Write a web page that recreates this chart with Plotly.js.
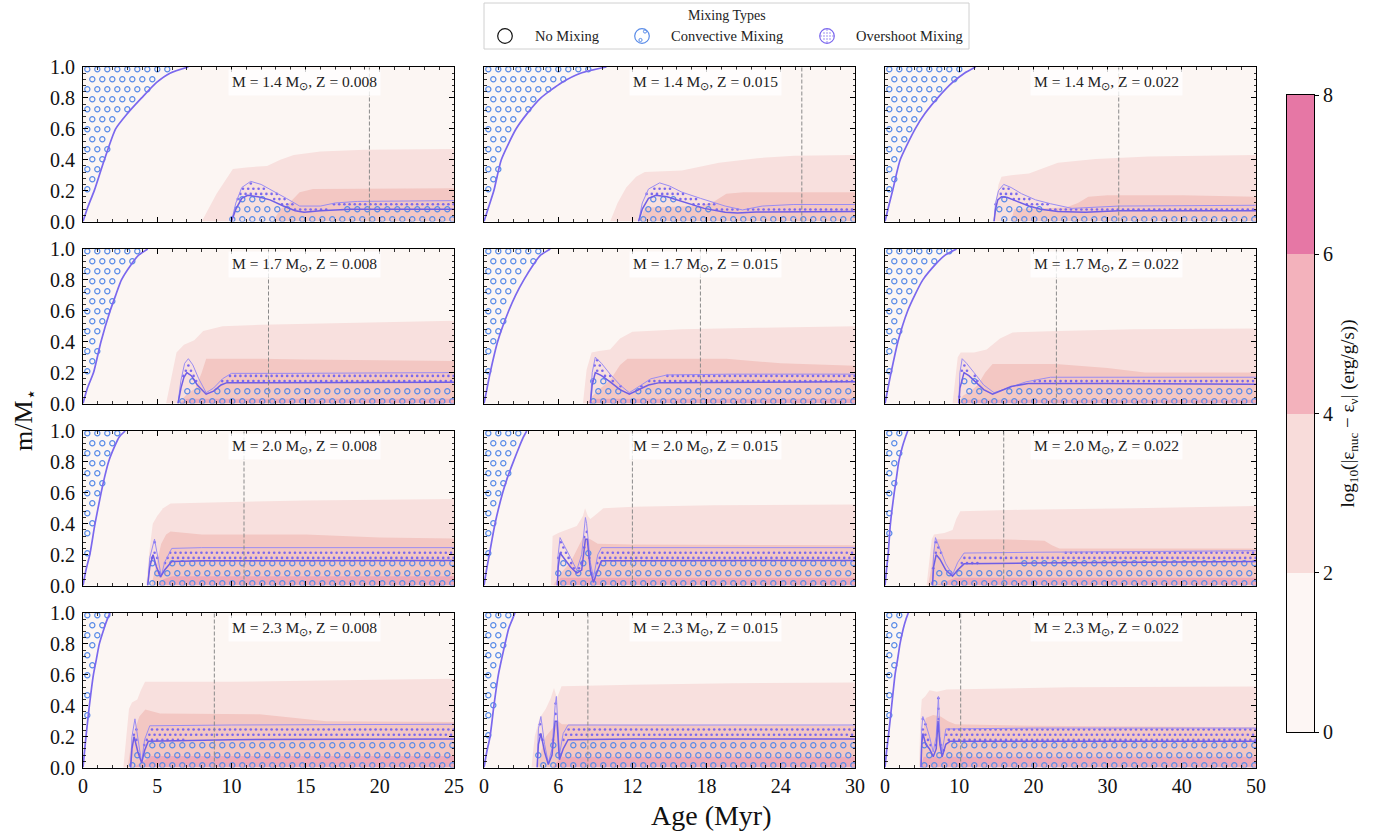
<!DOCTYPE html>
<html><head><meta charset="utf-8">
<script src="https://cdn.plot.ly/plotly-3.0.1.min.js"></script>
<style>html,body{margin:0;padding:0;background:#fff}</style>
</head><body><div id="chart" style="width:1379px;height:833px"></div>
<script>
// ---------------- DATA ----------------
const massLabels = ['1.4', '1.7', '2.0', '2.3'];
const zLabels = ['0.008', '0.015', '0.022'];
const xMax = [25, 30, 50];
const xTicks = [[0,5,10,15,20,25],[0,6,12,18,24,30],[0,10,20,30,40,50]];
const xMinor = [1, 1.2, 2];
const yTicks = [0, 0.2, 0.4, 0.6, 0.8, 1.0];
const cbLevels = [0, 2, 4, 6, 8];

// panels in row-major order: (1.4,0.008),(1.4,0.015),(1.4,0.022),(1.7,...),...
const envMass = [0, 0.1, 0.2, 0.4, 0.6, 0.7, 0.8, 0.9, 0.96, 1.0];
const envAge = [
  [0,0.35,0.76,1.44,2.2,3.0,3.95,4.96,5.86,7.1],
  [0,0.4,0.8,1.4,2.6,3.5,4.6,6.3,7.8,9.9],
  [0,0.5,1.03,2.05,4.07,5.4,7.1,9.1,10.7,12.2],
  [0,0.3,0.71,1.21,1.83,2.2,2.59,3.25,3.75,4.36],
  [0,0.25,0.5,1.1,2.0,2.55,3.22,4.0,4.57,5.36],
  [0,0.4,0.82,1.74,3.06,4.0,5.1,6.8,8.1,9.65],
  [0,0.2,0.46,0.81,1.22,1.45,1.72,2.13,2.43,2.84],
  [0,0.2,0.43,0.89,1.51,1.9,2.37,2.86,3.18,3.45],
  [0,0.2,0.42,0.73,1.24,1.55,1.85,2.35,2.75,3.06],
  [0,0.1,0.2,0.43,0.7,0.9,1.1,1.42,1.64,1.82],
  [0,0.22,0.49,0.8,1.16,1.42,1.7,2.0,2.3,2.5],
  [0,0.2,0.45,0.9,1.35,1.7,2.02,2.47,2.83,3.14]
];
const l1Age = [
  [8.0,9.0,10.1,11.0,12.4,13.3,14.2,16.0,19.0,25],
  [10.2,10.8,11.5,12.3,13.0,16.0,19.0,22.1,25.1,30],
  [14.5,14.9,15.3,15.7,17,19.4,21.5,23.3,28.4,35.5,50],
  [5.6,5.9,6.3,6.8,7.5,8.1,9.4,12,17.5,25],
  [8.0,8.3,8.7,9.3,10.2,11.0,12.0,16.0,22.1,30],
  [9.1,9.4,9.8,10.2,12,13.7,15.5,17.2,23.3,33.5,50],
  [4.26,4.45,4.7,5.0,5.4,5.9,10,15,25],
  [5.4,5.55,6.0,7.5,8.0,8.17,8.4,8.6,9.2,9.65,12.1,18.5,30],
  [5.6,5.9,6.3,6.6,8.0,9.1,9.6,10.15,18.3,33.5,50],
  [2.72,2.9,3.1,3.3,3.66,3.9,4.18,10,15,21,25],
  [3.84,4.1,4.5,5.0,5.4,5.66,5.9,6.27,12,20,30],
  [4.6,4.75,4.95,5.4,6.0,7.0,8.3,15,25,50]
];
const l1Mass = [
  [0,0.18,0.34,0.35,0.36,0.4,0.43,0.453,0.465,0.47],
  [0,0.12,0.22,0.29,0.32,0.33,0.38,0.41,0.425,0.43],
  [0,0.12,0.24,0.29,0.3,0.31,0.35,0.38,0.405,0.42,0.43],
  [0,0.15,0.33,0.38,0.41,0.47,0.5,0.51,0.52,0.535],
  [0,0.22,0.33,0.34,0.35,0.42,0.465,0.48,0.49,0.5],
  [0,0.15,0.3,0.33,0.33,0.35,0.42,0.46,0.47,0.48,0.485],
  [0,0.2,0.4,0.45,0.5,0.53,0.54,0.55,0.56],
  [0,0.32,0.34,0.385,0.45,0.5,0.45,0.43,0.47,0.5,0.51,0.52,0.525],
  [0,0.15,0.3,0.33,0.34,0.36,0.43,0.48,0.49,0.5,0.515],
  [0,0.2,0.38,0.42,0.44,0.5,0.555,0.555,0.56,0.57,0.575],
  [0,0.2,0.32,0.38,0.45,0.515,0.45,0.526,0.535,0.545,0.55],
  [0,0.3,0.44,0.46,0.5,0.49,0.505,0.51,0.52,0.525]
];
const l2Age = [
  [12.8,13.3,13.9,14.6,15.5,25],
  [12.6,13.0,17.5,18.6,19.6,21,30],
  [17,17.4,24.4,26,27.4,30,40,50],
  [6.4,7.0,7.6,8.0,8.3,12,15,25],
  [8.3,8.8,9.3,10.2,11.0,11.6,19.6,24,30],
  [9.8,10.5,11.5,12.5,13.5,14.5,23,30,35,50],
  [4.6,4.9,5.27,5.6,5.9,8,15,20,25],
  [5.6,6.2,7.0,7.6,8.0,8.6,9.2,12,30],
  [5.8,6.2,6.6,7.0,15,21.5,22.5,23.5,50],
  [3.0,3.2,3.5,3.8,4.2,5.2,11.9,16.4,25],
  [4.3,4.6,5.0,5.5,6.0,6.3,12,30],
  [4.8,5.0,5.5,6.5,7.5,8.5,9.5,20,50]
];
const l2Mass = [
  [0,0.08,0.12,0.19,0.21,0.215],
  [0,0.09,0.1,0.13,0.18,0.19,0.19],
  [0,0.08,0.09,0.12,0.16,0.17,0.17,0.16],
  [0,0.06,0.1,0.2,0.29,0.29,0.285,0.275],
  [0,0.05,0.09,0.15,0.25,0.29,0.29,0.26,0.245],
  [0,0.05,0.08,0.12,0.2,0.255,0.255,0.23,0.2,0.2],
  [0,0.12,0.27,0.33,0.35,0.33,0.33,0.31,0.305],
  [0,0.08,0.15,0.25,0.31,0.3,0.27,0.265,0.26],
  [0,0.1,0.25,0.3,0.3,0.29,0.26,0.24,0.24],
  [0,0.12,0.25,0.33,0.375,0.35,0.345,0.3,0.295],
  [0,0.1,0.2,0.25,0.3,0.28,0.275,0.27],
  [0,0.2,0.32,0.34,0.33,0.3,0.28,0.27,0.26]
];
const l3Age = [
  [], [], [],
  [6.5,7.0,25],
  [8.6,9.0,30],
  [10,10.4,50],
  [5.0,5.4,6,25],
  [5.8,6.2,30],
  [6.8,9.5,50],
  [3.4,4.0,4.6,25],
  [5.5,6.3,30],
  [4.8,5.2,50]
];
const l3Mass = [
  [], [], [],
  [0,0.03,0.03],
  [0,0.03,0.03],
  [0,0.025,0.025],
  [0,0.04,0.06,0.06],
  [0,0.05,0.05],
  [0,0.05,0.05],
  [0,0.04,0.075,0.075],
  [0,0.07,0.07],
  [0,0.07,0.07]
];
const coreAge = [
  [10.0,10.3,10.7,11.1,11.8,12.6,13.5,14.3,14.9,16,18,25],
  [12.5,12.8,13.3,13.9,14.8,16.0,17.8,19.5,20.5,22,30],
  [14.7,14.9,15.2,15.7,16.5,18,19.4,21,23.3,27,31.5,50],
  [6.4,6.6,6.8,7.0,7.3,7.7,8.3,8.8,9.3,9.7,12,25],
  [8.6,8.75,9.0,9.5,10.2,11.0,11.75,12.5,13.3,14.2,20,30],
  [9.95,10.1,10.65,11.3,12.2,13.3,14.5,15.5,17,19.3,30,50],
  [4.36,4.5,4.72,4.95,5.22,5.5,5.98,8,25],
  [5.93,6.0,6.15,6.5,7.0,7.5,7.9,8.2,8.35,8.6,8.85,9.2,9.5,12,30],
  [6.4,6.55,6.9,7.4,8.2,9.1,9.8,10.65,20,50],
  [3.21,3.3,3.44,3.7,3.95,4.15,4.4,10,25],
  [4.3,4.4,4.6,4.9,5.2,5.5,5.75,5.9,6.1,6.4,6.8,12,30],
  [4.85,4.95,5.1,5.5,6.0,6.5,6.9,7.15,7.4,7.7,8.2,8.8,20,50]
];
const coreMass = [
  [0,0.08,0.15,0.17,0.16,0.14,0.1,0.07,0.06,0.07,0.08,0.08],
  [0,0.08,0.15,0.17,0.16,0.13,0.085,0.06,0.055,0.062,0.065],
  [0,0.08,0.14,0.16,0.155,0.125,0.1,0.08,0.065,0.06,0.07,0.07],
  [0,0.1,0.17,0.2,0.18,0.12,0.06,0.08,0.12,0.135,0.135,0.138],
  [0,0.12,0.2,0.18,0.14,0.09,0.06,0.09,0.12,0.135,0.137,0.14],
  [0,0.1,0.2,0.18,0.14,0.09,0.06,0.08,0.11,0.13,0.13,0.125],
  [0,0.12,0.2,0.12,0.055,0.1,0.155,0.16,0.162],
  [0,0.12,0.21,0.17,0.12,0.08,0.1,0.3,0.3,0.1,0.02,0.1,0.16,0.16,0.162],
  [0,0.12,0.2,0.17,0.1,0.06,0.1,0.14,0.145,0.155],
  [0,0.12,0.2,0.1,0.03,0.11,0.17,0.18,0.185],
  [0,0.15,0.22,0.1,0.02,0.08,0.3,0.3,0.05,0.12,0.18,0.184,0.185],
  [0,0.15,0.22,0.15,0.12,0.07,0.12,0.3,0.15,0.07,0.15,0.17,0.17,0.17]
];
const ovAge = [
  [10.0,10.3,10.7,11.3,12.0,12.8,13.7,14.6,16.0,17.0,18.5,25],
  [12.5,12.8,13.3,14.2,15.0,16.0,17.5,19.5,20.9,22.5,25,30],
  [14.7,14.9,15.3,16.0,17,18.4,20.3,22.3,25.2,28,31.5,50],
  [6.4,6.6,6.85,7.1,7.4,7.8,8.3,8.8,9.4,10.0,14,25],
  [8.6,8.75,9.0,9.5,10.2,11.0,11.75,12.5,13.5,14.8,20,30],
  [9.95,10.1,10.4,11.0,12.0,13.3,14.7,16.5,19,22.3,35,50],
  [4.36,4.5,4.82,5.05,5.27,5.5,5.98,8,25],
  [5.93,6.0,6.15,6.5,7.0,7.5,7.9,8.2,8.3,8.6,8.85,9.2,9.5,12,30],
  [6.4,6.55,6.8,7.3,8.2,9.1,9.8,10.65,20,50],
  [3.21,3.3,3.5,3.75,3.95,4.15,4.5,10,25],
  [4.3,4.4,4.6,4.9,5.2,5.5,5.75,5.85,6.1,6.4,6.8,12,30],
  [4.85,4.95,5.1,5.5,6.0,6.5,6.9,7.2,7.4,7.7,8.2,8.8,20,50]
];
const ovMass = [
  [0,0.12,0.22,0.26,0.24,0.2,0.15,0.1,0.1,0.12,0.13,0.135],
  [0,0.12,0.21,0.25,0.23,0.19,0.15,0.1,0.075,0.1,0.11,0.11],
  [0,0.12,0.2,0.24,0.22,0.18,0.14,0.115,0.085,0.09,0.1,0.105],
  [0,0.15,0.26,0.29,0.25,0.16,0.07,0.1,0.16,0.195,0.195,0.2],
  [0,0.2,0.3,0.26,0.19,0.12,0.07,0.11,0.16,0.185,0.19,0.19],
  [0,0.2,0.29,0.26,0.2,0.12,0.07,0.1,0.14,0.17,0.17,0.17],
  [0,0.18,0.3,0.18,0.06,0.15,0.24,0.245,0.245],
  [0,0.2,0.31,0.26,0.18,0.1,0.2,0.44,0.4,0.15,0.05,0.2,0.245,0.245,0.245],
  [0,0.2,0.31,0.25,0.14,0.07,0.15,0.21,0.215,0.225],
  [0,0.2,0.315,0.15,0.03,0.18,0.27,0.275,0.28],
  [0,0.25,0.33,0.15,0.03,0.12,0.4,0.46,0.08,0.22,0.275,0.275,0.275],
  [0,0.25,0.33,0.28,0.2,0.1,0.2,0.46,0.2,0.1,0.25,0.25,0.255,0.255]
];
const markAge = [19.3, 25.7, 31.5, 12.5, 17.5, 23.1, 10.85, 12.0, 16.0, 8.85, 8.4, 10.2];

// ---------------- STYLE ----------------
const W = 1379, H = 833;
const FONT = '"Liberation Serif", "Times New Roman", serif';
const BG = '#fcf6f3';
const C_L1 = '#f8e0de', C_L2 = '#f3c7c3', C_L3 = '#eeaab9';
const CB_COLORS = ['#fdf6f4', '#f8dcda', '#f3b2bc', '#e677a5'];
const C_CONV = '#5a8ce8', C_OV = '#7b68ee';
const colPx = [[83, 454], [484, 855], [885, 1256]];
const rowPx = [[67, 221.5], [249, 403.5], [431, 585.5], [613, 767.5]];
const TICK_SIZE = 20;

function interp(xs, ys, t) {
  if (!xs.length || t < xs[0] || t > xs[xs.length - 1]) return null;
  for (let i = 1; i < xs.length; i++) {
    if (t <= xs[i]) {
      const a = xs[i - 1], b = xs[i];
      const f = b === a ? 1 : (t - a) / (b - a);
      return ys[i - 1] + f * (ys[i] - ys[i - 1]);
    }
  }
  return ys[ys.length - 1];
}

const traces = [];
const layout = {
  width: W, height: H, margin: {l: 0, r: 0, t: 0, b: 0},
  paper_bgcolor: '#ffffff', plot_bgcolor: BG, showlegend: false,
  font: {family: FONT, color: '#111'},
  shapes: [], annotations: []
};

for (let r = 0; r < 4; r++) {
  for (let c = 0; c < 3; c++) {
    const p = r * 3 + c, n = p + 1, s = n === 1 ? '' : String(n);
    const xa = 'x' + s, ya = 'y' + s;
    const wPx = colPx[c][1] - colPx[c][0], hPx = rowPx[r][1] - rowPx[r][0];
    const xm = xMax[c];

    layout['xaxis' + s] = {
      domain: [colPx[c][0] / W, colPx[c][1] / W], range: [0, xm], anchor: ya,
      tickvals: xTicks[c], ticktext: xTicks[c].map(String), showticklabels: r === 3,
      ticks: 'inside', ticklen: 5, tickwidth: 1, tickcolor: '#000',
      minor: {ticks: 'inside', ticklen: 2.5, tickwidth: 0.8, tickcolor: '#000', dtick: xMinor[c], tick0: 0},
      showline: true, linecolor: '#000', linewidth: 1, mirror: 'allticks',
      showgrid: false, zeroline: false, tickfont: {size: TICK_SIZE, family: FONT, color: '#111'}, fixedrange: true
    };
    layout['yaxis' + s] = {
      domain: [1 - rowPx[r][1] / H, 1 - rowPx[r][0] / H], range: [0, 1], anchor: xa,
      tickvals: yTicks, ticktext: yTicks.map(v => v.toFixed(1)), showticklabels: c === 0,
      ticks: 'inside', ticklen: 5, tickwidth: 1, tickcolor: '#000',
      minor: {ticks: 'inside', ticklen: 2.5, tickwidth: 0.8, tickcolor: '#000', dtick: 0.04, tick0: 0},
      showline: true, linecolor: '#000', linewidth: 1, mirror: 'allticks',
      showgrid: false, zeroline: false, tickfont: {size: TICK_SIZE, family: FONT, color: '#111'},
      ticklabelstandoff: 3, fixedrange: true
    };

    const base = {xaxis: xa, yaxis: ya, hoverinfo: 'skip', showlegend: false, type: 'scatter'};
    [[l1Age[p], l1Mass[p], C_L1], [l2Age[p], l2Mass[p], C_L2], [l3Age[p], l3Mass[p], C_L3]].forEach(([xs, ys, col]) => {
      if (!xs.length) return;
      traces.push(Object.assign({}, base, {x: xs, y: ys, mode: 'lines', line: {width: 0, color: col}, fill: 'tozeroy', fillcolor: col}));
    });

    // hatch lattices in panel pixel space
    const cx = [], cy = [];
    for (let k = 0; ; k++) {
      const py = 2.2 + 10 * k; if (py > hPx) break;
      const m = py / hPx;
      for (let px = (k % 2 ? 4.3 : 9.3); px < wPx; px += 10) {
        const t = px / wPx * xm;
        const e = interp(envAge[p], envMass, t);
        const cv = interp(coreAge[p], coreMass[p], t);
        if ((e !== null && m > e + 0.01) || (cv !== null && m < cv)) { cx.push(t); cy.push(m); }
      }
    }
    const dx = [], dy = [];
    for (let k = 0; ; k++) {
      const py = 1.6 + 5.2 * k; if (py > hPx) break;
      const m = py / hPx;
      for (let px = (k % 2 ? 1.4 : 4.0); px < wPx; px += 5.2) {
        const t = px / wPx * xm;
        const cv = interp(coreAge[p], coreMass[p], t);
        const ov = interp(ovAge[p], ovMass[p], t);
        if (cv !== null && ov !== null && m > cv + 0.004 && m < ov - 0.004) { dx.push(t); dy.push(m); }
      }
    }
    traces.push(Object.assign({}, base, {x: cx, y: cy, mode: 'markers', cliponaxis: true,
      marker: {symbol: 'circle-open', size: 5.2, color: C_CONV, line: {width: 1.2, color: C_CONV}}}));
    traces.push(Object.assign({}, base, {x: dx, y: dy, mode: 'markers', cliponaxis: true,
      marker: {symbol: 'circle', size: 2.6, color: C_OV, line: {width: 0}}}));

    traces.push(Object.assign({}, base, {x: ovAge[p], y: ovMass[p], mode: 'lines', line: {width: 1, color: '#9a8cf2'}}));
    traces.push(Object.assign({}, base, {x: coreAge[p], y: coreMass[p], mode: 'lines', line: {width: 1.5, color: '#6f5ee6'}}));
    traces.push(Object.assign({}, base, {x: envAge[p], y: envMass, mode: 'lines', line: {width: 1.7, color: '#7b68ee', shape: 'spline', smoothing: 0.6}}));

    layout.shapes.push({type: 'line', xref: xa, yref: ya + ' domain', x0: markAge[p], x1: markAge[p], y0: 0, y1: 1,
      line: {color: '#8a8a8a', width: 1, dash: '4px,2px'}, layer: 'above'});
    layout.annotations.push({xref: xa + ' domain', yref: ya + ' domain', x: 0.597, y: 0.9, xanchor: 'center', yanchor: 'middle',
      text: 'M = ' + massLabels[r] + ' M<sub>⊙</sub>, Z = ' + zLabels[c], showarrow: false,
      font: {family: FONT, size: 15.5, color: '#222'}, bgcolor: 'rgba(255,255,255,0.8)', borderpad: 3});
  }
}

// ---------------- COLORBAR ----------------
const cbMid = cbLevels.slice(0, -1).map((v, i) => (v + cbLevels[i + 1]) / 2);
const cbScale = [];
CB_COLORS.forEach((col, i) => { cbScale.push([i / 4, col]); cbScale.push([(i + 1) / 4, col]); });
traces.push({type: 'heatmap', x: [0.5], y: cbMid, z: cbMid.map(v => [v]), xaxis: 'x13', yaxis: 'y13',
  colorscale: cbScale, zmin: 0, zmax: 8, showscale: false, hoverinfo: 'skip'});
layout.xaxis13 = {domain: [1287 / W, 1314 / W], range: [0, 1], anchor: 'y13', showticklabels: false, ticks: '',
  showline: true, mirror: true, linecolor: '#000', linewidth: 1, showgrid: false, zeroline: false, fixedrange: true};
layout.yaxis13 = {domain: [1 - 732 / H, 1 - 95 / H], range: [0, 8], anchor: 'x13', side: 'right',
  tickvals: cbLevels, ticks: 'outside', ticklen: 4, tickcolor: '#000', showline: true, mirror: true, linecolor: '#000', linewidth: 1,
  showgrid: false, zeroline: false, tickfont: {size: TICK_SIZE, family: FONT, color: '#111'}, fixedrange: true,
  title: {text: 'log<sub>10</sub>(|ε<sub>nuc</sub> − ε<sub>ν</sub>| (erg/g/s))', font: {size: 19, family: FONT, color: '#111'}, standoff: 8}};

// ---------------- AXIS TITLES ----------------
layout.annotations.push({xref: 'paper', yref: 'paper', x: 711 / W, y: 1 - 815 / H, text: 'Age (Myr)', showarrow: false,
  font: {family: FONT, size: 28, color: '#111'}, xanchor: 'center', yanchor: 'middle'});
layout.annotations.push({xref: 'paper', yref: 'paper', x: 25 / W, y: 1 - 420 / H, text: 'm/M<sub>⋆</sub>', showarrow: false,
  textangle: -90, font: {family: FONT, size: 26, color: '#111'}, xanchor: 'center', yanchor: 'middle'});

// ---------------- LEGEND (drawn) ----------------
const legBox = {x0: 484, x1: 969, y0: 3, y1: 49};
const legItems = ['No Mixing', 'Convective Mixing', 'Overshoot Mixing'];
const legIconX = [505, 642, 827];
const legTextX = [533, 669, 854];
const legY = 36, legR = 7.3;
layout.shapes.push({type: 'rect', xref: 'paper', yref: 'paper', x0: legBox.x0 / W, x1: legBox.x1 / W,
  y0: 1 - legBox.y1 / H, y1: 1 - legBox.y0 / H, line: {color: '#d0d0d0', width: 1}, fillcolor: 'rgba(255,255,255,0.9)', layer: 'above'});
layout.annotations.push({xref: 'paper', yref: 'paper', x: (legBox.x0 + legBox.x1) / 2 / W, y: 1 - 16 / H, text: 'Mixing Types',
  showarrow: false, font: {family: FONT, size: 14, color: '#222'}, xanchor: 'center', yanchor: 'middle'});
function pxCircle(cx, cy, r, color, width, fill) {
  return {type: 'circle', xref: 'paper', yref: 'paper', xsizemode: 'pixel', ysizemode: 'pixel',
    xanchor: cx / W, yanchor: 1 - cy / H, x0: -r, x1: r, y0: -r, y1: r,
    line: {color: color, width: width}, fillcolor: fill || 'rgba(0,0,0,0)', layer: 'above'};
}
const legColors = ['#111111', C_CONV, C_OV];
legItems.forEach((txt, i) => {
  layout.shapes.push(pxCircle(legIconX[i], legY, legR, legColors[i], 1.2));
  layout.annotations.push({xref: 'paper', yref: 'paper', x: legTextX[i] / W, y: 1 - legY / H, text: txt, showarrow: false,
    font: {family: FONT, size: 14.5, color: '#222'}, xanchor: 'left', yanchor: 'middle'});
});
layout.shapes.push(pxCircle(legIconX[1] + 3, legY - 4.5, 1.6, C_CONV, 1));
layout.shapes.push(pxCircle(legIconX[1] - 1.5, legY + 4, 1.6, C_CONV, 1));
for (let gx = -6; gx <= 6; gx += 3) {
  for (let gy = -6; gy <= 6; gy += 3) {
    if (gx * gx + gy * gy <= (legR - 1.2) * (legR - 1.2)) {
      layout.shapes.push(pxCircle(legIconX[2] + gx, legY + gy, 0.7, C_OV, 0, C_OV));
    }
  }
}

Plotly.newPlot('chart', traces, layout, {staticPlot: true, displayModeBar: false});
</script>
</body></html>
